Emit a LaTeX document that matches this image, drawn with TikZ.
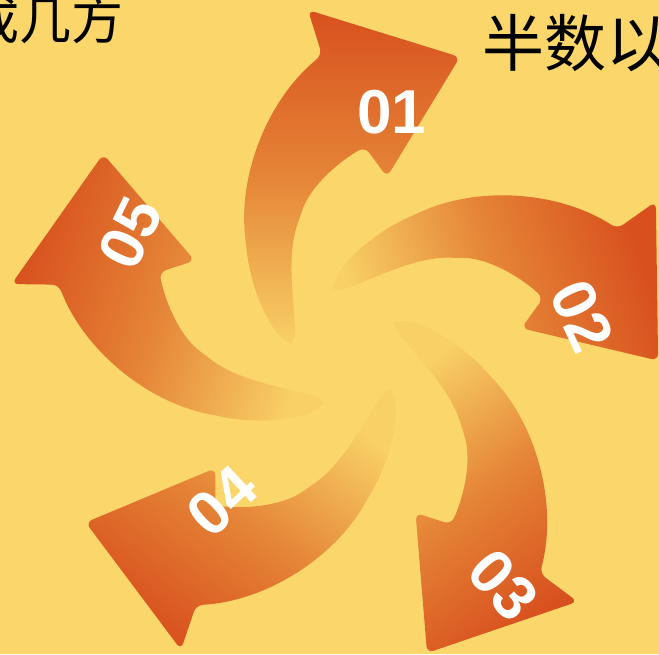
\documentclass[tikz,border=0pt]{standalone}
\usepackage{fontspec}
\setmainfont{Liberation Sans}
\newfontfamily\cjk{Noto Sans CJK SC}
\definecolor{bg}{RGB}{251,214,107}
\definecolor{adark}{RGB}{216,80,30}
\definecolor{amid}{RGB}{229,133,55}
\definecolor{alight}{RGB}{248,208,102}
\pgfdeclareverticalshading{arrowshade}{100bp}{color(0bp)=(alight); color(25bp)=(alight); color(50bp)=(amid); color(75bp)=(adark); color(100bp)=(adark)}
\tikzset{
  lbl/.style={font=\fontsize{62}{62}\selectfont\bfseries, text=white, inner sep=0pt},
  cjktext/.style={text=black, inner sep=0pt},
  arrowbody/.style={shading=arrowshade, rounded corners=7pt}
}
\begin{document}
\begin{tikzpicture}[x=1pt,y=1pt]
\useasboundingbox (0,0) rectangle (659,-654);
\clip (0,0) rectangle (659,-654);
\fill[bg] (0,0) rectangle (659,-654);
\begin{scope}[shift={(343,-344)}]
\foreach \k/\dx/\dy in {0/0/0, 1/6/6, 2/10/-8, 3/6/-15, 4/-3/-10}{
  \pgfmathsetmacro\ang{-72*\k}
  \begin{scope}[shift={(\dx,\dy)}, rotate=\ang]
    \path[arrowbody, shading angle=\ang]
      (-21,289) .. controls (-75,245) and (-105,170) .. (-97,100)
      .. controls (-92,55) and (-75,20) .. (-58,3)
      .. controls (-52,0) and (-48,6) .. (-48,15)
      .. controls (-50,50) and (-56,90) .. (-43,127)
      .. controls (-32,160) and (0,185) .. (22,197)
      -- (44,167) -- (117,287) -- (-35,334) -- cycle;
  \end{scope}
}
\end{scope}
\node[lbl] (l1) at (392,-112) {01};
\node[lbl, rotate=-65] (l2) at (582,-316) {02};
\node[lbl, rotate=-48] (l3) at (503,-585) {03};
\node[lbl, rotate=43] (l4) at (222,-501) {04};
\node[lbl, rotate=64] (l5) at (130,-233) {05};
\node[cjktext, font=\cjk\fontsize{52}{52}\selectfont, anchor=base east] (tl) at (124,-39) {成几方};
\node[cjktext, font=\cjk\fontsize{62}{62}\selectfont, anchor=base west] (tr) at (482,-66) {半数以};
\end{tikzpicture}
\end{document}
